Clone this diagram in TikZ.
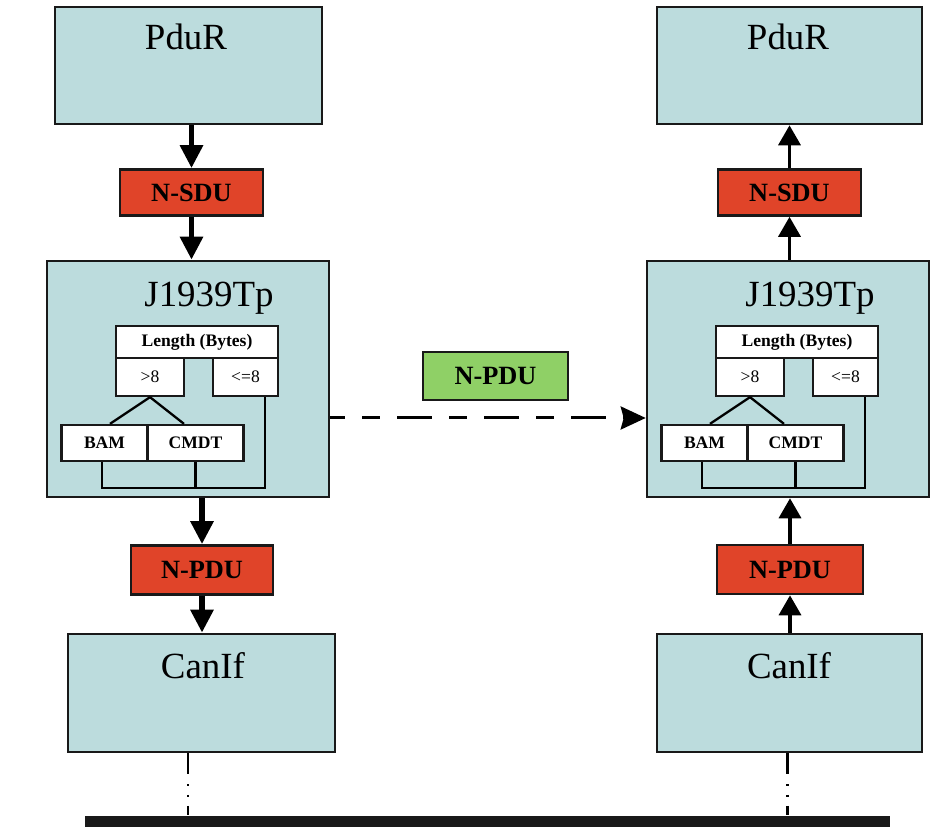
\documentclass[tikz,border=0pt]{standalone}
\usepackage{fontspec}
\setmainfont{Liberation Serif}
\usetikzlibrary{arrows.meta}
\usetikzlibrary{positioning}
\usetikzlibrary{calc}

\definecolor{modfill}{HTML}{BCDCDD}
\definecolor{sdured}{HTML}{E04429}
\definecolor{pdugreen}{HTML}{8FD066}

\tikzset{
  module/.style={draw=black!90, line width=1.5pt, fill=modfill, inner sep=0pt},
  unit/.style={draw=black!90, line width=1.5pt, inner sep=0pt, minimum width=2.86cm, minimum height=0.92cm,
    font=\fontsize{15}{18}\selectfont\bfseries},
  bigtxt/.style={font=\fontsize{21}{25}\selectfont, inner sep=0pt, anchor=base},
  cell/.style={draw=black!90, line width=1.3pt, fill=white, inner sep=0pt, font=\fontsize{10}{12}\selectfont},
}

\begin{document}
\begin{tikzpicture}[x=0.02cm, y=-0.02cm,
    leftflow/.style={line width=3.4pt, -{Triangle[length=0.46cm, width=0.44cm]}},
    rightflow/.style={line width=2pt, -{Triangle[length=0.4cm, width=0.44cm]}},
    pduflow/.style={line width=1.7pt, dash pattern=on 0.7cm off 0.34cm on 0.36cm off 0.34cm, dash phase=0.4cm,
      -{Stealth[length=0.5cm, width=0.46cm, inset=0.06cm]}},
    tapline/.style={line width=1.7pt, dash pattern=on 0.42cm off 0.2cm on 0.04cm off 0.17cm on 0.04cm off 0.18cm on 0.3cm},
    tree/.style={line width=1.3pt}]
  \useasboundingbox (0,0) rectangle (946,837);

  % left stack
  \node[module, minimum width=5.34cm, minimum height=2.34cm] (pdurL) at (188.5,65.5) {};
  \node[bigtxt] (pdurLt) at (186,50) {PduR};
  \node[unit, fill=sdured] (nsduL) at (191.5,192.5) {N-SDU};
  \node[module, minimum width=5.64cm, minimum height=4.72cm] (tpL) at (188,379) {};
  \node[bigtxt] (tpLt) at (209,307) {J1939Tp};
  \node[unit, fill=sdured, minimum width=2.84cm, minimum height=0.98cm] (npduL) at (202,570) {N-PDU};
  \node[module, minimum width=5.34cm, minimum height=2.36cm] (canifL) at (201.5,693) {};
  \node[bigtxt] (canifLt) at (203,678) {CanIf};

  % left tree
  \node[cell, font=\fontsize{10}{12}\selectfont\bfseries, minimum width=3.24cm, minimum height=0.64cm] (lenL) at (197,342) {Length (Bytes)};
  \node[cell, minimum width=1.36cm, minimum height=0.76cm] (gtL) at (150,377) {>8};
  \node[cell, minimum width=1.3cm, minimum height=0.76cm] (leL) at (245.5,377) {<=8};
  \node[cell, font=\fontsize{10}{12}\selectfont\bfseries, minimum width=1.72cm, minimum height=0.72cm] (bamL) at (104.5,443) {BAM};
  \node[cell, font=\fontsize{10}{12}\selectfont\bfseries, minimum width=1.92cm, minimum height=0.72cm] (cmdtL) at (195.5,443) {CMDT};
  \draw[tree] (gtL.south) -- ([xshift=0.11cm]bamL.north);
  \draw[tree] (gtL.south) -- ([xshift=-0.23cm]cmdtL.north);
  \coordinate (baseL) at ($(bamL.south)+(0,-0.52cm)$);
  \draw[tree] ([xshift=-0.05cm]bamL.south) -- ([xshift=-0.05cm]baseL) -| ([xshift=0.39cm]leL.south);
  \draw[tree] (cmdtL.south) -- (cmdtL.south |- baseL);

  % right stack
  \node[module, minimum width=5.3cm, minimum height=2.34cm] (pdurR) at (789.5,65.5) {};
  \node[bigtxt] (pdurRt) at (788,50) {PduR};
  \node[unit, fill=sdured] (nsduR) at (789.5,192.5) {N-SDU};
  \node[module, minimum width=5.64cm, minimum height=4.72cm] (tpR) at (788,379) {};
  \node[bigtxt] (tpRt) at (810,307) {J1939Tp};
  \node[unit, fill=sdured, minimum width=2.92cm, minimum height=0.98cm] (npduR) at (790,569.5) {N-PDU};
  \node[module, minimum width=5.3cm, minimum height=2.36cm] (canifR) at (789.5,693) {};
  \node[bigtxt] (canifRt) at (789,678) {CanIf};

  % right tree
  \node[cell, font=\fontsize{10}{12}\selectfont\bfseries, minimum width=3.24cm, minimum height=0.64cm] (lenR) at (797,342) {Length (Bytes)};
  \node[cell, minimum width=1.36cm, minimum height=0.76cm] (gtR) at (750,377) {>8};
  \node[cell, minimum width=1.3cm, minimum height=0.76cm] (leR) at (845.5,377) {<=8};
  \node[cell, font=\fontsize{10}{12}\selectfont\bfseries, minimum width=1.72cm, minimum height=0.72cm] (bamR) at (704.5,443) {BAM};
  \node[cell, font=\fontsize{10}{12}\selectfont\bfseries, minimum width=1.92cm, minimum height=0.72cm] (cmdtR) at (795.5,443) {CMDT};
  \draw[tree] (gtR.south) -- ([xshift=0.11cm]bamR.north);
  \draw[tree] (gtR.south) -- ([xshift=-0.23cm]cmdtR.north);
  \coordinate (baseR) at ($(bamR.south)+(0,-0.52cm)$);
  \draw[tree] ([xshift=-0.05cm]bamR.south) -- ([xshift=-0.05cm]baseR) -| ([xshift=0.39cm]leR.south);
  \draw[tree] (cmdtR.south) -- (cmdtR.south |- baseR);

  % middle + bus
  \node[unit, fill=pdugreen, minimum width=2.9cm, minimum height=0.96cm] (npduM) at (495.5,376) {N-PDU};
  \node[fill=black!90, inner sep=0pt, minimum width=16.1cm, minimum height=0.22cm] (bus) at (487.5,821) {};

  % flows
  \draw[leftflow] (pdurL.south -| nsduL.north) -- (nsduL.north);
  \draw[leftflow] (nsduL.south) -- (nsduL.south |- tpL.north);
  \draw[leftflow] (tpL.south -| npduL.north) -- (npduL.north);
  \draw[leftflow] (npduL.south) -- (npduL.south |- canifL.north);
  \draw[rightflow] (tpR.north -| nsduR.south) -- (nsduR.south);
  \draw[rightflow] (nsduR.north) -- (nsduR.north |- pdurR.south);
  \draw[rightflow] (canifR.north -| npduR.south) -- (npduR.south);
  \draw[rightflow] (npduR.north) -- (npduR.north |- tpR.south);
  \draw[pduflow] ([yshift=-0.78cm]tpL.east) -- ([yshift=-0.78cm]tpR.west);
  \draw[tapline] ([xshift=-0.27cm]canifL.south) -- ([xshift=-0.27cm]canifL.south |- bus.north);
  \draw[tapline] ([xshift=-0.05cm]canifR.south) -- ([xshift=-0.05cm]canifR.south |- bus.north);
\end{tikzpicture}
\end{document}
